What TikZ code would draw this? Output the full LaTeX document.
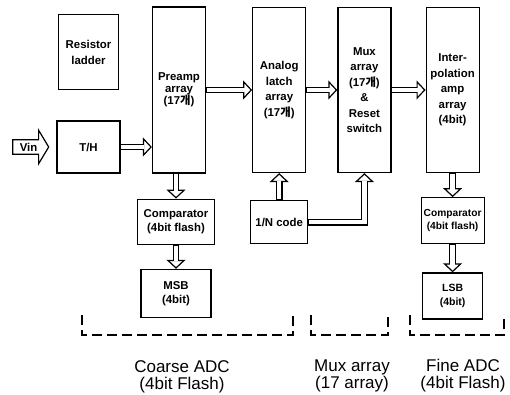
\documentclass[tikz,border=0pt]{standalone}
\usepackage{fontspec}
\setmainfont{Liberation Sans}
\newfontfamily\krfont{Noto Sans CJK KR}
\usetikzlibrary{
  arrows.meta,
  positioning,
  shapes.arrows
}
\newcommand{\gae}{{\krfont 개}}

\begin{document}
\begin{tikzpicture}[
      x=1pt, y=-1pt,
      block/.style={
        rectangle, draw=black, line width=1.2pt, fill=white,
        inner sep=1pt, align=center,
        font=\fontsize{11.4}{14}\selectfont\bfseries
      },
      tallbox/.style={
        block, minimum width=53pt, minimum height=165pt,
        font=\fontsize{11.4}{15.5}\selectfont\bfseries
      },
      inarrow/.style={
        single arrow, draw=black, line width=1.2pt, fill=white,
        inner xsep=1pt, inner ysep=2.5pt, minimum height=36pt,
        single arrow head extend=9.5pt, single arrow tip angle=118,
        font=\fontsize{11.4}{11}\selectfont\bfseries
      },
      hollow/.style={
        line width=6.9pt,
        -{Triangle[open, fill=white, length=9pt, width=19pt, line width=1.2pt]},
        postaction={draw=white, line width=4.5pt, -, shorten <=0.7pt, shorten >=7.5pt}
      },
      bracket/.style={line width=1.8pt, dash pattern=on 10pt off 5pt},
      grouplabel/.style={font=\fontsize{17}{17}\selectfont, align=center}
    ]
      \useasboundingbox (0,0) rectangle (510,395);

      \node[tallbox, minimum height=166pt,
            font=\fontsize{11.4}{12}\selectfont\bfseries] (preamp) at (179,90) {Preamp\\array\\(17\gae)};
      \node[tallbox, right=46pt of preamp] (latch) {Analog\\latch\\array\\(17\gae)};
      \node[tallbox, right=31pt of latch] (mux) {Mux\\array\\(17\gae)\\\&\\Reset\\switch};
      \node[tallbox, right=34pt of mux] (interp) {Inter-\\polation\\amp\\array\\(4bit)};

      \node[block, minimum width=63pt, minimum height=52pt] (th) at (88.5,147) {T/H};
      \node[block, minimum width=60pt, minimum height=75pt, above=30pt of th,
            font=\fontsize{11.4}{16}\selectfont\bfseries] (ladder) {Resistor\\ladder};
      \node[inarrow, left=7pt of th] (vin) {Vin};

      \node[block, minimum width=77pt, minimum height=45pt, below=25pt of preamp, xshift=-3pt] (compl) {Comparator\\(4bit flash)};
      \node[block, minimum width=70pt, minimum height=48pt, below=24pt of compl] (msb) {MSB\\(4bit)};
      \node[block, minimum width=57pt, minimum height=43pt, below=27pt of latch] (ncode) {1/N code};
      \node[block, minimum width=63pt, minimum height=46pt, below=24pt of interp,
            font=\fontsize{10.2}{13}\selectfont\bfseries] (compr) {Comparator\\(4bit flash)};
      \node[block, minimum width=60pt, minimum height=46pt, below=28pt of compr,
            font=\fontsize{10.5}{14}\selectfont\bfseries] (lsb) {LSB\\(4bit)};

      \draw[hollow] (th.east) -- (th.east -| preamp.west);
      \draw[hollow] (preamp) -- (latch);
      \draw[hollow] (latch) -- (mux);
      \draw[hollow] (mux) -- (interp);
      \draw[hollow] (preamp.south -| compl) -- (compl.north);
      \draw[hollow] (compl) -- (msb);
      \draw[hollow] (ncode) -- (latch);
      \draw[hollow] (ncode.east) -| (mux.south);
      \draw[hollow] (interp) -- (compr);
      \draw[hollow] (compr) -- (lsb);

      \draw[bracket] (82,315) -- (82,335) -- (293,335) -- (293,315);
      \draw[bracket] (311,315) -- (311,335) -- (388,335) -- (388,315);
      \draw[bracket] (410,315) -- (410,335) -- (504,335) -- (504,315);

      \node[grouplabel] (coarse) at (182,377) {Coarse ADC\\(4bit Flash)};
      \node[grouplabel] (muxlbl) at (352,376) {Mux array\\(17 array)};
      \node[grouplabel] (fine) at (463,376) {Fine ADC\\(4bit Flash)};
    \end{tikzpicture}
\end{document}
